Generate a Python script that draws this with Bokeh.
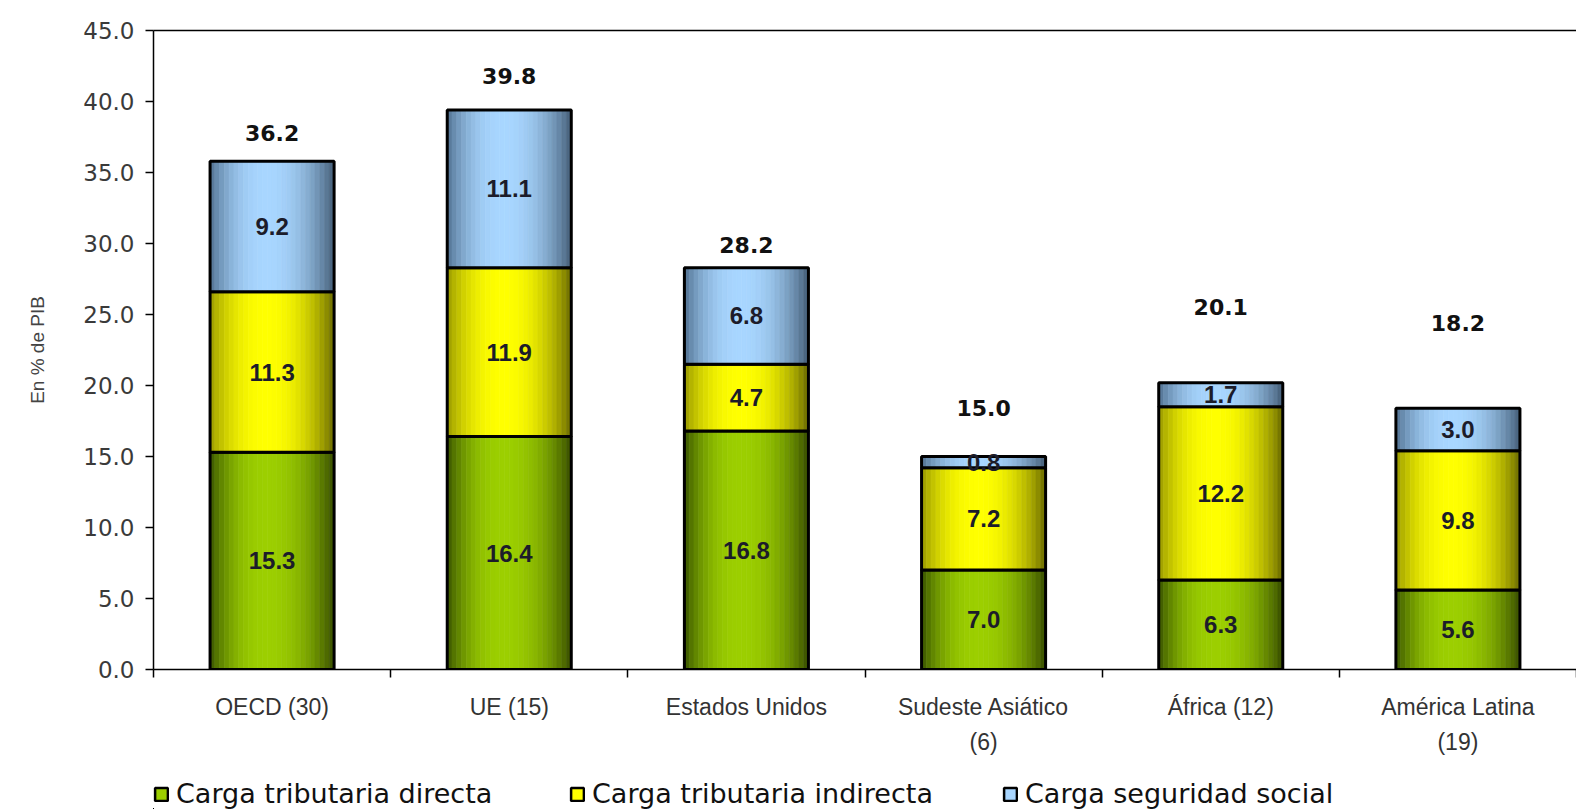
import numpy as np
from bokeh.plotting import figure
from bokeh.layouts import column
from bokeh.models import (ColumnDataSource, Range1d, LinearAxis, FixedTicker,
                          Legend, LegendItem, NumeralTickFormatter)
from bokeh.core.properties import value
from bokeh.embed import file_html
from bokeh.resources import INLINE

# ---------------- data ----------------
categories = ["OECD (30)", "UE (15)", "Estados Unidos", "Sudeste Asiático\n(6)",
              "África (12)", "América Latina\n(19)"]
directa = [15.3, 16.4, 16.8, 7.0, 6.3, 5.6]
indirecta = [11.3, 11.9, 4.7, 7.2, 12.2, 9.8]
seguridad = [9.2, 11.1, 6.8, 0.8, 1.7, 3.0]
totales = ["36.2", "39.8", "28.2", "15.0", "20.1", "18.2"]
series_names = ["Carga tributaria directa", "Carga tributaria indirecta", "Carga seguridad social"]
y_ticks = [0, 5, 10, 15, 20, 25, 30, 35, 40, 45]

# total label placement (data units)
total_label_y = [37.8, 41.8, 29.9, 18.45, 25.5, 24.4]

# ---------------- styles ----------------
shades = [
    ((0x3a, 0x55, 0x00), (0x9c, 0xcf, 0x00), (0x38, 0x4e, 0x00)),
    ((0x9a, 0x9a, 0x00), (0xff, 0xff, 0x00), (0x6c, 0x6c, 0x00)),
    ((0x52, 0x72, 0x92), (0xa8, 0xd6, 0xff), (0x44, 0x5e, 0x78)),
]
legend_x = [0, 416, 849]          # screen offsets of the legend entries from the frame's left
N_STRIPS = 26
BAR_W = 0.523
PEAK = 0.45
W = 1576


def shade_color(left, centre, right, t):
    if t <= PEAK:
        s = t / PEAK
        f = 1 - (1 - s) ** 2.2
        a, b = left, centre
    else:
        s = (t - PEAK) / (1 - PEAK)
        f = 1 - s ** 2.2
        a, b = right, centre
    rgb = [int(round(a[i] + (b[i] - a[i]) * f)) for i in range(3)]
    return "#%02x%02x%02x" % tuple(rgb)


n = len(categories)
centers = np.arange(n) + 0.5
series = [directa, indirecta, seguridad]
bottoms = [np.zeros(n), np.array(directa), np.array(directa) + np.array(indirecta)]

p = figure(width=W, height=770, output_backend="svg", toolbar_location=None,
           x_range=Range1d(0, 6.0), y_range=Range1d(0, 45),
           min_border_left=153, min_border_top=30, min_border_right=0,
           min_border_bottom=101, background_fill_color="white",
           border_fill_color="white")
p.outline_line_color = None
p.xgrid.visible = False
p.ygrid.visible = False

# legend-only strip placed under the chart (its ranges keep the data out of view)
lf = figure(width=W, height=39, output_backend="svg", toolbar_location=None,
            x_range=Range1d(10, 16), y_range=Range1d(41, 42),
            min_border=0, x_axis_location=None, y_axis_location=None,
            background_fill_color="white", border_fill_color="white")
lf.outline_line_color = None
lf.xgrid.visible = False
lf.ygrid.visible = False

# strip order: the middle strip first so that row 0 carries the legend colour
strip_order = [N_STRIPS // 2 - 1] + [k for k in range(N_STRIPS) if k != N_STRIPS // 2 - 1]

for si, vals in enumerate(series):
    vals = np.array(vals)
    bot = bottoms[si]
    top = bot + vals
    xs, b0, t0, cols = [], [], [], []
    strip_w = BAR_W / N_STRIPS
    for k in strip_order:
        for i in range(n):
            t = (k + 0.5) / N_STRIPS
            xs.append(centers[i] - BAR_W / 2 + (k + 0.5) * strip_w)
            b0.append(bot[i])
            t0.append(top[i])
            cols.append(shade_color(*shades[si], t))
    src = ColumnDataSource(dict(x=xs, bottom=b0, top=t0, color=cols))
    osrc = ColumnDataSource(dict(x=centers, bottom=bot, top=top))
    p.vbar(x="x", bottom="bottom", top="top", width=strip_w * 1.02, source=src,
           fill_color="color", line_color="color", line_width=0.6)
    p.vbar(x="x", bottom="bottom", top="top", width=BAR_W, source=osrc,
           fill_color=None, line_color="black", line_width=3)
    ls = lf.vbar(x="x", bottom="bottom", top="top", width=strip_w, source=src,
                 fill_color="color", line_color=None)
    lo = lf.vbar(x="x", bottom="bottom", top="top", width=BAR_W, source=osrc,
                 fill_color=None, line_color="black", line_width=2.5)
    leg = Legend(items=[LegendItem(label=series_names[si], renderers=[ls, lo], index=0)],
                 orientation="horizontal", location=(legend_x[si], 0),
                 border_line_color=None, background_fill_alpha=0,
                 label_text_font="DejaVu Sans", label_text_font_size="27px",
                 label_text_color="#111111", glyph_width=16, glyph_height=16,
                 label_height=27, label_standoff=7, padding=0, margin=0)
    lf.add_layout(leg, "center")

    p.text(x=centers, y=bot + vals / 2, text=["%.1f" % v for v in vals],
           text_align="center", text_baseline="middle",
           text_font=value("Liberation Sans"), text_font_style="bold",
           text_font_size="24px", text_color="#1c1c2a")

p.text(x=centers, y=total_label_y, text=totales, text_align="center",
       text_baseline="middle", text_font=value("DejaVu Sans"),
       text_font_style="bold", text_font_size="22px", text_color="#111111")

# ---------------- axes ----------------
xa = p.xaxis[0]
xa.ticker = FixedTicker(ticks=[float(c) for c in centers],
                        minor_ticks=[float(v) for v in range(0, n + 1)])
xa.major_label_overrides = {float(c): lab for c, lab in zip(centers, categories)}
xa.major_tick_line_color = None
xa.minor_tick_in = 0
xa.minor_tick_out = 8
xa.minor_tick_line_color = "black"
xa.minor_tick_line_width = 1.5
xa.axis_line_color = "black"
xa.axis_line_width = 1.5
xa.major_label_standoff = 16
xa.major_label_text_font = "Liberation Sans"
xa.major_label_text_font_size = "23px"
xa.major_label_text_color = "#333333"
xa.major_label_text_line_height = 1.38

ya = p.yaxis[0]
ya.ticker = FixedTicker(ticks=y_ticks)
ya.formatter = NumeralTickFormatter(format="0.0")
ya.major_tick_in = 0
ya.major_tick_out = 8
ya.minor_tick_line_color = None
ya.major_tick_line_color = "black"
ya.major_tick_line_width = 1.5
ya.axis_line_color = "black"
ya.axis_line_width = 1.5
ya.major_label_standoff = 11
ya.major_label_text_font = "DejaVu Sans"
ya.major_label_text_font_size = "23px"
ya.major_label_text_color = "#3a3a3a"
ya.axis_label = "En % de PIB"
ya.axis_label_text_font = "Liberation Sans"
ya.axis_label_text_font_style = "normal"
ya.axis_label_text_font_size = "19px"
ya.axis_label_text_color = "#444444"
ya.axis_label_standoff = 32

top_axis = LinearAxis(ticker=FixedTicker(ticks=[]), axis_line_color="black",
                      axis_line_width=1.5, major_tick_line_color=None,
                      minor_tick_line_color=None, major_label_text_font_size="0px")
p.add_layout(top_axis, "above")

layout = column(p, lf, spacing=0)
open("out.html", "w").write(file_html(layout, INLINE))
